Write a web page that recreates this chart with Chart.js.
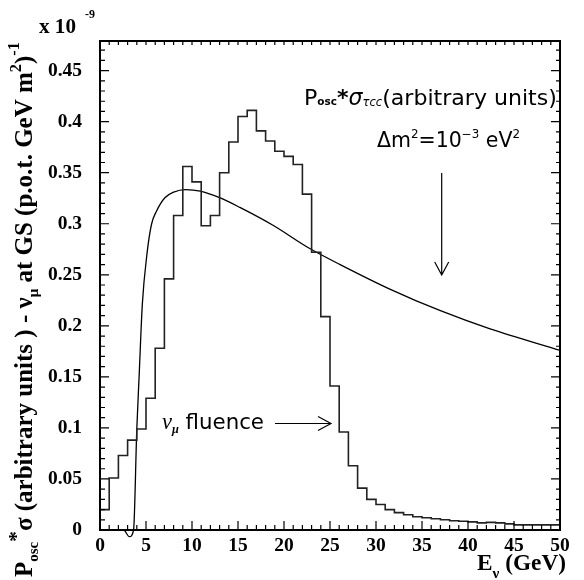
<!DOCTYPE html>
<html>
<head>
<meta charset="utf-8">
<script src="https://cdn.jsdelivr.net/npm/chart.js@4.4.1/dist/chart.umd.min.js"></script>
<style>
  body { margin: 0; background: #fff; }
  #wrap { width: 584px; height: 580px; }
</style>
</head>
<body>
<div id="wrap"><canvas id="chart" width="584" height="580"></canvas></div>
<script>
// nu_mu fluence histogram, 1 GeV bins (low edges)
const binLow = [0,1,2,3,4,5,6,7,8,9,10,11,12,13,14,15,16,17,18,19,20,21,22,23,24,
	25,26,27,28,29,30,31,32,33,34,35,36,37,38,39,40,41,42,43,44,45,46,47,48,49];
const binWidth = 1;
const fluence = [0.020,0.051,0.073,0.088,0.099,0.129,0.178,0.246,0.308,0.356,
	0.341,0.298,0.308,0.350,0.380,0.405,0.411,0.391,0.381,0.371,
	0.366,0.358,0.329,0.272,0.209,0.141,0.096,0.063,0.041,0.030,
	0.025,0.020,0.017,0.015,0.013,0.012,0.011,0.010,0.009,0.0085,
	0.008,0.007,0.0075,0.007,0.006,0.005,0.005,0.005,0.005,0.005];

// Posc * sigma_tauCC curve (arbitrary units)
const curveE = [2.65,3.2,3.65,4.0,4.25,4.6,5.1,5.6,6.15,7.05,8.0,9.3,10.9,13.0,15.2,18.8,22.8,26.1,31.5,37.0,42.4,50];
const curveVal = [0,-0.0065,0,0.099,0.15,0.221,0.27,0.2995,0.3125,0.3255,0.331,0.3335,0.332,0.3255,0.316,0.2985,0.2757,0.26,0.236,0.2148,0.197,0.176];

const xMin = 0, xMax = 50, xStep = 5;
const yMin = 0, yMax = 0.479, yStep = 0.05;

const serif = '"Liberation Serif", "Times New Roman", serif';
const sans = '"DejaVu Sans", "Liberation Sans", sans-serif';

const histPoints = binLow.map((e, i) => ({x: e, y: fluence[i]}));
histPoints.push({x: binLow[binLow.length - 1] + binWidth, y: fluence[fluence.length - 1]});
const curvePoints = curveE.map((e, i) => ({x: e, y: curveVal[i]}));

function fnt(p, s) {
	return (p.it ? 'italic ' : '') + (p.b ? 'bold ' : '') + (p.sz * s).toFixed(2) + 'px ' + (p.fam || serif);
}
function partsWidth(ctx, parts, s) {
	let w = 0;
	for (const p of parts) { ctx.font = fnt(p, s); w += ctx.measureText(p.t).width; }
	return w;
}
// draw a run of text pieces on one baseline, fitted to a width
function drawRun(ctx, parts, x, y, width, align) {
	const s = width ? width / partsWidth(ctx, parts, 1) : 1;
	let cx = align === 'right' ? x - partsWidth(ctx, parts, s) : x;
	ctx.textAlign = 'left';
	ctx.textBaseline = 'alphabetic';
	for (const p of parts) {
		ctx.font = fnt(p, s);
		ctx.fillText(p.t, cx, y + (p.dy || 0) * s);
		cx += ctx.measureText(p.t).width;
	}
}
function arrow(ctx, x1, y1, x2, y2, len, half) {
	const a = Math.atan2(y2 - y1, x2 - x1);
	ctx.beginPath();
	ctx.moveTo(x1, y1); ctx.lineTo(x2, y2);
	ctx.moveTo(x2 - len * Math.cos(a) + half * Math.sin(a), y2 - len * Math.sin(a) - half * Math.cos(a));
	ctx.lineTo(x2, y2);
	ctx.lineTo(x2 - len * Math.cos(a) - half * Math.sin(a), y2 - len * Math.sin(a) + half * Math.cos(a));
	ctx.stroke();
}

const framePlugin = {
	id: 'frame',
	afterDraw(chart) {
		const ctx = chart.ctx;
		const xs = chart.scales.x, ys = chart.scales.y;
		const a = chart.chartArea;
		ctx.save();
		ctx.strokeStyle = '#000';
		ctx.fillStyle = '#000';
		// ticks
		ctx.lineWidth = 1.2;
		ctx.beginPath();
		for (let e = xMin; e <= xMax; e++) {
			const px = xs.getPixelForValue(e);
			const major = e % xStep === 0;
			ctx.moveTo(px, a.bottom); ctx.lineTo(px, a.bottom - (major ? 9 : 5));
			ctx.moveTo(px, a.top); ctx.lineTo(px, a.top + 4);
		}
		for (let k = 0; k * 0.01 <= yMax; k++) {
			const py = ys.getPixelForValue(k * 0.01);
			const major = k % 5 === 0;
			ctx.moveTo(a.left, py); ctx.lineTo(a.left + (major ? 9 : 5), py);
			ctx.moveTo(a.right, py); ctx.lineTo(a.right - (major ? 9 : 4), py);
		}
		ctx.stroke();
		// frame
		ctx.lineWidth = 2;
		ctx.strokeRect(a.left, a.top, a.right - a.left, a.bottom - a.top);

		// exponent
		drawRun(ctx, [{t: 'x 10', sz: 19.5, b: true}], 39, 33, 37);
		drawRun(ctx, [{t: '-9', sz: 14, b: true}], 85, 18, 10);

		// x title
		drawRun(ctx, [
			{t: 'E', sz: 20, b: true},
			{t: 'ν', sz: 13, b: true, dy: 7},
			{t: ' (GeV)', sz: 20, b: true}
		], 566, 570, 89, 'right');

		// y title, rotated
		ctx.save();
		ctx.translate(32, 577);
		ctx.rotate(-Math.PI / 2);
		drawRun(ctx, [
			{t: 'P', sz: 20, b: true},
			{t: 'osc', sz: 12, b: true, dy: 5},
			{t: '*', sz: 17, b: true, dy: -7},
			{t: 'σ (arbitrary units ) - ', sz: 20, b: true},
			{t: 'ν', sz: 20, b: true},
			{t: 'μ', sz: 12, b: true, dy: 5},
			{t: ' at GS (p.o.t. GeV m', sz: 20, b: true},
			{t: '2', sz: 13, b: true, dy: -9},
			{t: ')', sz: 20, b: true},
			{t: '-1', sz: 13, b: true, dy: -10}
		], 0, 0, 535);
		ctx.restore();

		// annotations
		drawRun(ctx, [
			{t: 'P', sz: 19, fam: sans},
			{t: 'osc', sz: 9, b: true, fam: sans},
			{t: '*', sz: 19, b: true, fam: sans},
			{t: 'σ', sz: 19, it: true, fam: sans},
			{t: 'τcc', sz: 10, it: true, fam: sans, dy: 1},
			{t: '(arbitrary units)', sz: 19, fam: sans}
		], 304, 105, 253);
		drawRun(ctx, [
			{t: 'Δm', sz: 19, fam: sans},
			{t: '2', sz: 11, fam: sans, dy: -8},
			{t: '=10', sz: 19, fam: sans},
			{t: '−3', sz: 11, fam: sans, dy: -8},
			{t: ' eV', sz: 19, fam: sans},
			{t: '2', sz: 11, fam: sans, dy: -8}
		], 377, 147, 143);
		drawRun(ctx, [
			{t: 'ν', sz: 20, it: true, fam: serif},
			{t: 'μ', sz: 11, it: true, b: true, fam: serif, dy: 4},
			{t: ' fluence', sz: 19, fam: sans}
		], 162, 429, 102);

		ctx.lineWidth = 1.2;
		arrow(ctx, 441.7, 173, 441.7, 275, 13, 7);
		arrow(ctx, 275, 423.5, 331, 423.5, 13, 7);
		ctx.restore();
	}
};

new Chart(document.getElementById('chart'), {
	type: 'line',
	data: {
		datasets: [{
			label: 'nu_mu fluence',
			data: histPoints,
			stepped: true,
			borderColor: '#222',
			borderWidth: 1.6,
			pointRadius: 0,
			fill: false
		}, {
			label: 'Posc*sigma',
			data: curvePoints,
			cubicInterpolationMode: 'monotone',
			borderColor: '#000',
			borderWidth: 1.3,
			pointRadius: 0,
			fill: false,
			clip: false
		}]
	},
	options: {
		responsive: false,
		animation: false,
		layout: { padding: { left: 0, top: 41, right: 24, bottom: 0 } },
		plugins: { legend: { display: false }, tooltip: { enabled: false } },
		scales: {
			x: {
				type: 'linear',
				min: xMin,
				max: xMax,
				grid: { drawOnChartArea: false, drawTicks: false },
				border: { display: false },
				ticks: {
					stepSize: xStep,
					padding: 4,
					color: '#000',
					maxRotation: 0,
					font: { family: serif, size: 19.5, weight: 'bold' }
				},
				afterFit: (scale) => { scale.height = 50; }
			},
			y: {
				type: 'linear',
				min: yMin,
				max: yMax,
				grid: { drawOnChartArea: false, drawTicks: false },
				border: { display: false },
				ticks: {
					stepSize: yStep,
					includeBounds: false,
					padding: 18,
					color: '#000',
					font: { family: serif, size: 19.5, weight: 'bold' },
					callback: (v) => v === 0 ? '0' : String(Math.round(v * 100) / 100)
				},
				afterFit: (scale) => { scale.width = 100; }
			}
		}
	},
	plugins: [framePlugin]
});
</script>
</body>
</html>
